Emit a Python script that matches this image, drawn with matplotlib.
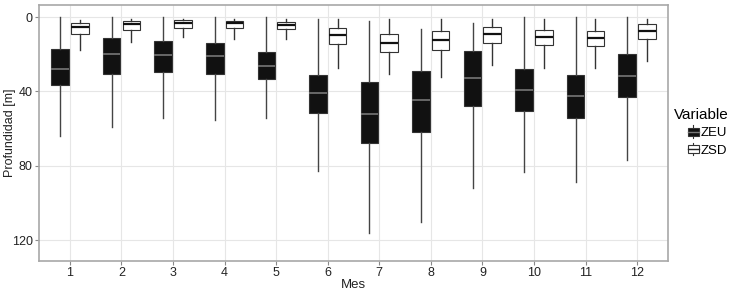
import matplotlib
matplotlib.use("Agg")
import matplotlib.pyplot as plt
from matplotlib import font_manager
from matplotlib.legend_handler import HandlerBase
from matplotlib.patches import Rectangle
from matplotlib.lines import Line2D
import numpy as np

plt.rcParams['font.family'] = ['Liberation Sans', 'DejaVu Sans']

months = [1, 2, 3, 4, 5, 6, 7, 8, 9, 10, 11, 12]

# ZEU box stats (depth, m)
zeu_whislo = [0, 0, 0, 0, 0, 1.3, 2.3, 6.5, 3.4, 0, 0, 0]
zeu_q1 = [17.4, 11.5, 12.7, 13.8, 18.8, 31.0, 35.2, 29.2, 18.1, 28.0, 31.0, 20.1]
zeu_med = [28.0, 20.1, 20.6, 21.0, 26.2, 40.7, 52.2, 44.5, 32.7, 39.3, 42.5, 31.8]
zeu_q3 = [36.4, 30.7, 29.6, 30.7, 33.4, 51.8, 68.0, 62.0, 48.1, 50.4, 54.4, 43.1]
zeu_whishi = [64.0, 59.0, 54.2, 55.4, 54.5, 82.7, 116.4, 110.3, 91.9, 83.6, 89.0, 76.8]

# ZSD box stats (depth, m)
zsd_whislo = [1.6, 1.3, 1.3, 1.3, 1.3, 1.3, 1.3, 1.3, 1.3, 1.3, 1.3, 1.3]
zsd_q1 = [3.4, 2.2, 1.8, 2.0, 2.9, 5.9, 9.0, 7.4, 5.2, 7.2, 7.4, 3.6]
zsd_med = [5.6, 3.8, 3.2, 3.0, 4.1, 9.5, 14.2, 12.6, 9.0, 10.8, 11.3, 7.4]
zsd_q3 = [9.1, 7.0, 5.7, 6.1, 6.6, 14.7, 18.7, 17.9, 13.8, 14.9, 15.6, 11.8]
zsd_whishi = [17.8, 13.6, 10.9, 11.7, 11.8, 27.3, 30.7, 32.5, 25.8, 27.6, 27.6, 23.5]

y_ticks = [0, 40, 80, 120]


def make_stats(lo, q1, med, q3, hi):
    return [dict(whislo=a, q1=b, med=c, q3=d, whishi=e, fliers=[])
            for a, b, c, d, e in zip(lo, q1, med, q3, hi)]


class BoxKeyHandler(HandlerBase):
    # small ggplot-like boxplot key, pushed to the right of the handle area
    def __init__(self, face, edge, median):
        HandlerBase.__init__(self)
        self.face, self.edge, self.median = face, edge, median

    def create_artists(self, legend, orig_handle, xdescent, ydescent,
                       width, height, fontsize, trans):
        w = 7.5
        h = 5.5
        cx = width - xdescent - w / 2
        y0 = -ydescent + (height - h) / 2
        whisk = Line2D([cx, cx], [y0 - 1.8, y0 + h + 1.8], color=self.edge,
                       lw=0.8, transform=trans)
        box = Rectangle((cx - w / 2, y0), w, h, facecolor=self.face,
                        edgecolor=self.edge, lw=0.8, transform=trans)
        med = Line2D([cx - w / 2, cx + w / 2], [y0 + h / 2, y0 + h / 2],
                     color=self.median, lw=1.0, transform=trans)
        return [whisk, box, med]


# the reference text looks narrow; use the narrow face if it is there
installed = {f.name for f in font_manager.fontManager.ttflist}
if 'Liberation Sans Narrow' in installed:
    tick_family, tick_size = 'Liberation Sans Narrow', 10
else:
    tick_family, tick_size = 'Liberation Sans', 9

fig = plt.figure(figsize=(7.36, 2.94), dpi=100)
ax = fig.add_axes([0.053, 0.112, 0.8546, 0.871])

pos = np.array(months, dtype=float)
off = 0.19
bw = 0.34

ax.bxp(make_stats(zeu_whislo, zeu_q1, zeu_med, zeu_q3, zeu_whishi),
       positions=pos - off, widths=bw, patch_artist=True, showcaps=False,
       showfliers=False,
       boxprops=dict(facecolor='#111111', edgecolor='#333333', lw=0.8),
       whiskerprops=dict(color='#444444', lw=1.0),
       medianprops=dict(color='#777777', lw=1.2), zorder=3)

ax.bxp(make_stats(zsd_whislo, zsd_q1, zsd_med, zsd_q3, zsd_whishi),
       positions=pos + off, widths=bw, patch_artist=True, showcaps=False,
       showfliers=False,
       boxprops=dict(facecolor='white', edgecolor='#333333', lw=0.8),
       whiskerprops=dict(color='#333333', lw=1.0),
       medianprops=dict(color='#111111', lw=1.6), zorder=3)

ax.set_xlim(0.4, 12.6)
ax.set_ylim(131.3, -6.5)
ax.set_xticks(months)
ax.set_xticklabels([str(m) for m in months])
ax.set_yticks(y_ticks)
ax.grid(True, color='#E6E6E6', lw=0.8, zorder=0)
ax.set_axisbelow(True)

for s in ax.spines.values():
    s.set_color('#A8A8A8')
    s.set_linewidth(1.2)
ax.tick_params(colors='#8A8A8A', length=3, width=0.8, labelsize=tick_size,
               labelcolor='#222222', pad=1.5)
for lab in ax.get_xticklabels() + ax.get_yticklabels():
    lab.set_family([tick_family, 'DejaVu Sans'])

ax.set_xlabel('Mes', fontsize=9.5, color='#222222', labelpad=0)
ax.set_ylabel('Profundidad [m]', fontsize=9, color='#222222')
ax.yaxis.set_label_coords(-0.037, 0.5)

h_zeu = Rectangle((0, 0), 1, 1)
h_zsd = Rectangle((0, 0), 1, 1)
leg = fig.legend([h_zeu, h_zsd], ['ZEU', 'ZSD'], title='Variable',
                 loc='center left', bbox_to_anchor=(0.908, 0.55),
                 frameon=False, fontsize=9.5, title_fontsize=11,
                 handlelength=1.9, handleheight=0.8, handletextpad=0.15,
                 labelspacing=0.35, borderaxespad=0,
                 handler_map={h_zeu: BoxKeyHandler('#111111', '#333333', '#777777'),
                              h_zsd: BoxKeyHandler('white', '#333333', '#222222')})
leg._legend_box.align = 'left'

fig.savefig('out.png', dpi=100)
